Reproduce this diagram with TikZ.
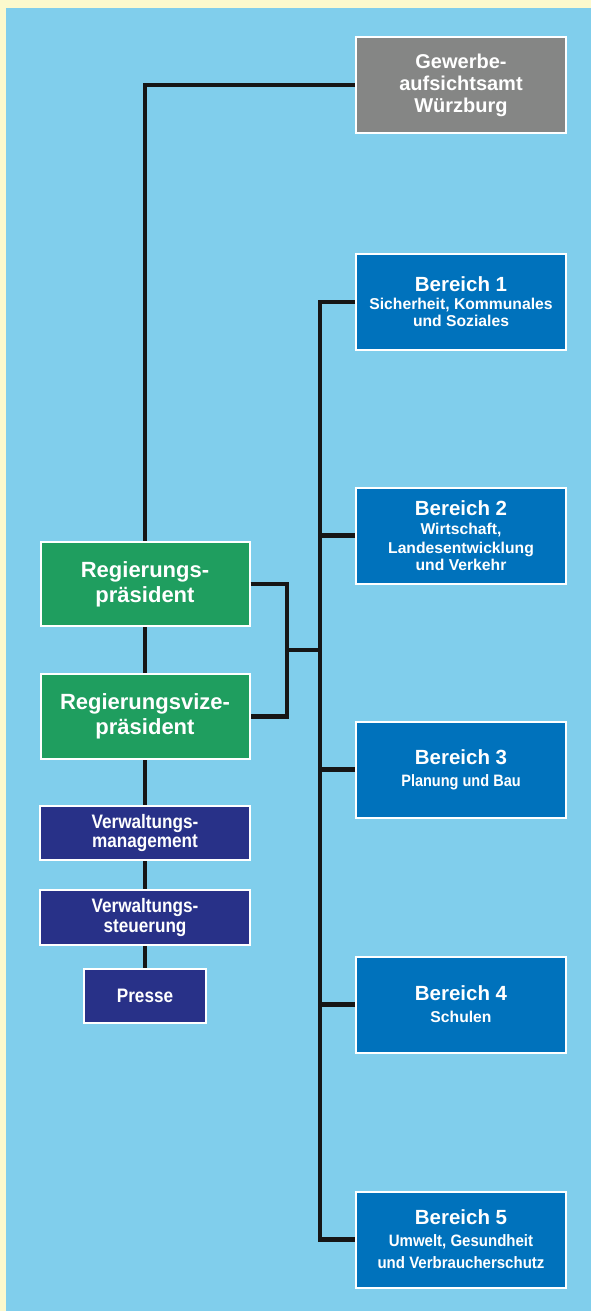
\documentclass[tikz,border=0pt]{standalone}
\usepackage{fontspec}
\setmainfont{Liberation Sans}
\newfontfamily\narrowfont{Liberation Sans}[FakeStretch=0.88]
\newfontfamily\semifont{Liberation Sans}[FakeStretch=0.91]
\definecolor{bgyellow}{HTML}{FCF9CD}
\definecolor{bgblue}{HTML}{80CEEC}
\definecolor{boxgray}{HTML}{858685}
\definecolor{boxblue}{HTML}{0072BC}
\definecolor{boxgreen}{HTML}{1F9E5F}
\definecolor{boxnavy}{HTML}{283188}
\definecolor{linec}{HTML}{161616}
\newcommand{\ttlfont}{\fontsize{20.5}{20}\selectfont}
\tikzset{
  box/.style={draw=white, line width=2pt, inner sep=0pt, text=white, align=center},
  graybox/.style={box, fill=boxgray, minimum width=210pt, minimum height=96pt,
    font=\bfseries\fontsize{20}{22}\selectfont},
  bluebox/.style={box, fill=boxblue, minimum width=210pt, minimum height=96pt},
  greenbox/.style={box, fill=boxgreen, minimum width=209pt, minimum height=84pt,
    font=\bfseries\fontsize{22}{25}\selectfont},
  navybox/.style={box, fill=boxnavy, minimum width=210pt, minimum height=54pt,
    font=\narrowfont\bfseries\fontsize{19.5}{19.5}\selectfont},
  conn/.style={draw=linec, line width=4.5pt},
}
\begin{document}
\begin{tikzpicture}[x=1pt, y=-1pt]
\useasboundingbox (0,0) rectangle (591,1311);
\fill[bgyellow] (0,0) rectangle (591,1311);
\fill[bgblue] (6,8) rectangle (591,1311);

\node[graybox] (gew) at (461,85) {Gewerbe-\\aufsichtsamt\\Würzburg};

\node[bluebox, font=\bfseries\fontsize{15.7}{17}\selectfont] (b1) at (461,302)
  {{\ttlfont Bereich 1}\\[1pt]Sicherheit, Kommunales\\und Soziales};
\node[bluebox, font=\bfseries\fontsize{15.7}{19}\selectfont] (b2) at (461,535.5)
  {{\ttlfont Bereich 2}\\Wirtschaft,\\Landesentwicklung\\[-2pt]und Verkehr};
\node[bluebox, font=\narrowfont\bfseries\fontsize{16.5}{22}\selectfont] (b3) at (461,769.5)
  {{\normalfont\bfseries\ttlfont Bereich 3}\\Planung und Bau};
\node[bluebox, font=\bfseries\fontsize{15.7}{22}\selectfont] (b4) at (461,1004.5)
  {{\ttlfont Bereich 4}\\Schulen};
\node[bluebox, font=\semifont\bfseries\fontsize{16.5}{22}\selectfont] (b5) at (461,1239.5)
  {{\normalfont\bfseries\ttlfont Bereich 5}\\Umwelt, Gesundheit\\und Verbraucherschutz};

\node[greenbox] (rp) at (145,584) {Regierungs-\\präsident};
\node[greenbox, minimum height=85pt] (vize) at (145,716.5) {Regierungsvize-\\präsident};

\node[navybox] (vm) at (145,833) {Verwaltungs-\\management};
\node[navybox, minimum height=55pt] (vs) at (145,917.5) {Verwaltungs-\\steuerung};
\node[navybox, minimum width=122pt] (pr) at (145,996) {Presse};

\coordinate (j) at (287,650);
\coordinate (sp) at (320,650);

\draw[conn] (gew.west) -| (rp.north);
\draw[conn] (rp.south) -- (vize.north);
\draw[conn] (vize.south) -- (vm.north);
\draw[conn] (vm.south) -- (vs.north);
\draw[conn] (vs.south) -- (pr.north);
\draw[conn] (rp.east) -| (j) |- (vize.east);
\draw[conn] (j) -- (sp);
\draw[conn] (b1.west) -| (sp) |- (b5.west);
\foreach \b in {b2,b3,b4} \draw[conn] (\b.west) -- (\b.west -| sp);
\end{tikzpicture}
\end{document}
